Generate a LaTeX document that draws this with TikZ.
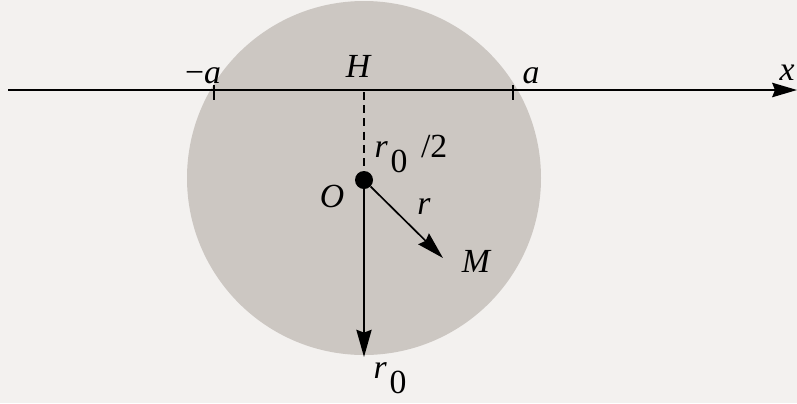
\documentclass[tikz,border=0pt]{standalone}
\usepackage{fontspec}
\setmainfont{Liberation Serif}
\usepackage{tikz}
\usetikzlibrary{arrows.meta, positioning}
\definecolor{ballgray}{HTML}{CCC7C2}
\definecolor{paper}{HTML}{F3F1EF}
\newcommand{\sub}[2]{\textit{#1}\hspace{2pt}\raisebox{-1.0ex}{#2}}

\begin{document}
\begin{tikzpicture}[
  x=0.025cm, y=-0.025cm,
  axis/.style={-{Stealth[length=0.62cm, width=0.36cm, inset=2pt]}, line width=1.4pt},
  vec/.style={-{Stealth[length=0.68cm, width=0.38cm, inset=2pt]}, line width=1.2pt},
  tick/.style={line width=1.2pt},
  lbl/.style={font=\fontsize{24}{28}\selectfont\itshape, inner sep=1pt},
]
  %% page and charged ball
  \fill[paper] (0,0) rectangle (797,403);
  \useasboundingbox (0,0) rectangle (797,403);
  \fill[ballgray] (364,178) circle[radius=177];

  %% x axis
  \coordinate (xl) at (8,90);
  \coordinate (xr) at (797,90);
  \draw[axis] (xl) -- (xr);
  \node[lbl] (xlab) at (787,73) {x};

  \foreach \t in {214, 513} {
    \draw[tick] (\t,85) -- (\t,100);
  }
  \node[lbl] (ma) at (203,76) {\textup{−}a};
  \node[lbl] (pa) at (531,76) {a};
  \node[lbl] (H) at (358,66) {H};
  \coordinate (Hpt) at (364,92);

  %% centre and radius vectors
  \node[circle, fill=black, minimum size=0.45cm, inner sep=0pt] (O) at (364,180) {};
  \node[lbl] (Olab) at (332,196) {O};
  \draw[line width=1.1pt, dash pattern=on 0.2cm off 0.13cm] (Hpt) -- (O);
  \node[lbl, anchor=west] (half) at (373,154) {\sub{r}{\upshape 0}\hspace{0.4em}\upshape/2};

  \coordinate (Mtip) at (443,258);
  \draw[vec] (O) -- (Mtip);
  \node[lbl] (rlab) at (424,207) {r};
  \node[lbl] (M) at (476,261) {M};

  \coordinate (bot) at (364,357);
  \draw[vec] (O) -- (bot);
  \node[lbl] (r0) at (390,378) {\sub{r}{\upshape 0}};
\end{tikzpicture}
\end{document}
